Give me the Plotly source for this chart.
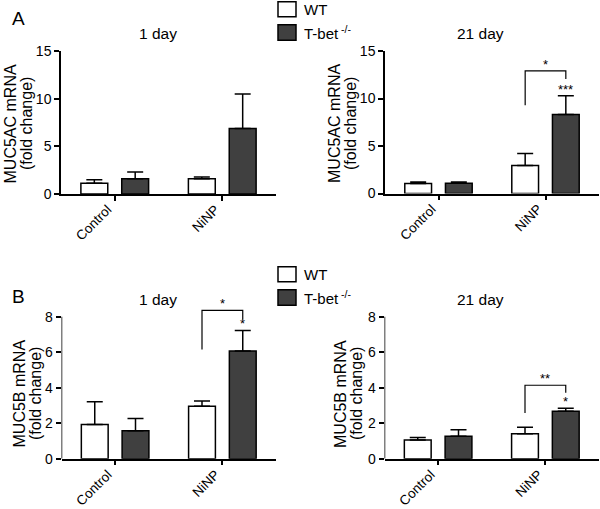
import plotly.graph_objects as go

categories = ["Control", "NiNP"]
groups = ["WT", "T-bet<sup> -/-</sup>"]

# Panel A: MUC5AC, 1 day and 21 day
a1_wt_mean = [1.12, 1.60]
a1_wt_sem = [0.38, 0.18]
a1_ko_mean = [1.60, 6.87]
a1_ko_sem = [0.70, 3.63]

a21_wt_mean = [1.05, 2.95]
a21_wt_sem = [0.15, 1.25]
a21_ko_mean = [1.09, 8.32]
a21_ko_sem = [0.11, 1.98]

# Panel B: MUC5B, 1 day and 21 day
b1_wt_mean = [1.93, 2.95]
b1_wt_sem = [1.28, 0.30]
b1_ko_mean = [1.58, 6.07]
b1_ko_sem = [0.69, 1.16]

b21_wt_mean = [1.05, 1.41]
b21_wt_sem = [0.15, 0.36]
b21_ko_mean = [1.26, 2.67]
b21_ko_sem = [0.37, 0.17]

FONT = "Liberation Sans, Arial, Helvetica, sans-serif"
KO_COLOR = "#404040"
W = 600
H = 509

pos = list(range(len(categories)))
OFF = 0.19
BW = 0.25

fig = go.Figure()

panels = [
    ("x", "y", a1_wt_mean, a1_wt_sem, a1_ko_mean, a1_ko_sem),
    ("x2", "y2", a21_wt_mean, a21_wt_sem, a21_ko_mean, a21_ko_sem),
    ("x3", "y3", b1_wt_mean, b1_wt_sem, b1_ko_mean, b1_ko_sem),
    ("x4", "y4", b21_wt_mean, b21_wt_sem, b21_ko_mean, b21_ko_sem),
]

for xa, ya, wm, ws, km, ks in panels:
    for means, sems, color, name, sign in [(wm, ws, "white", groups[0], -1), (km, ks, KO_COLOR, groups[1], 1)]:
        fig.add_trace(go.Bar(
            x=[p + sign * OFF for p in pos], y=means, width=BW,
            marker=dict(color=color, line=dict(color="black", width=1.5)),
            error_y=dict(type="data", symmetric=False, array=sems, arrayminus=[0] * len(sems),
                         color="black", thickness=1.5, width=8),
            name=name, showlegend=False, xaxis=xa, yaxis=ya, hoverinfo="skip",
        ))

def px_x(v):
    return v / W

def px_y(v):
    return 1 - v / H

xcommon = dict(range=[-0.5, 1.5], tickvals=pos, ticktext=categories, showticklabels=False,
               ticks="outside", ticklen=5, tickwidth=1.5, tickcolor="black",
               showline=True, linewidth=1.5, linecolor="black", showgrid=False, zeroline=False,
               fixedrange=True, automargin=False)
ycommon = dict(ticks="outside", ticklen=5, tickwidth=1.5, tickcolor="black",
               showgrid=False, zeroline=False,
               tickfont=dict(family=FONT, size=14, color="black"), fixedrange=True, automargin=False)

fig.update_layout(
    width=W, height=H, margin=dict(l=0, r=0, t=0, b=0, autoexpand=False),
    paper_bgcolor="white", plot_bgcolor="white", showlegend=False,
    font=dict(family=FONT, color="black"),
    xaxis=dict(xcommon, domain=[px_x(61), px_x(276)], anchor="y"),
    yaxis=dict(ycommon, domain=[px_y(194), px_y(51)], range=[0, 15], dtick=5, anchor="x",
               showline=True, linewidth=1.5, linecolor="black"),
    xaxis2=dict(xcommon, domain=[px_x(385), px_x(599)], anchor="y2"),
    yaxis2=dict(ycommon, domain=[px_y(193.5), px_y(51)], range=[0, 15], dtick=5, anchor="x2",
                showline=True, linewidth=1.5, linecolor="black"),
    xaxis3=dict(xcommon, domain=[px_x(61.5), px_x(276)], anchor="y3"),
    yaxis3=dict(ycommon, domain=[px_y(458.7), px_y(299)], range=[0, 9], tickvals=[0, 2, 4, 6, 8], anchor="x3",
                showline=False),
    xaxis4=dict(xcommon, domain=[px_x(384.5), px_x(599)], anchor="y4"),
    yaxis4=dict(ycommon, domain=[px_y(458.7), px_y(299)], range=[0, 9], tickvals=[0, 2, 4, 6, 8], anchor="x4",
                showline=False),
)

shapes = []
# y axis lines for panel B (stop at 8)
for xr, yr in [("x3", "y3"), ("x4", "y4")]:
    shapes.append(dict(type="line", xref=xr, yref=yr, x0=-0.5, x1=-0.5, y0=0, y1=8,
                       line=dict(color="black", width=1.5)))

# significance brackets: (xref, yref, left bottom, top, right bottom)
brackets = [
    ("x2", "y2", 9.3, 12.9, 12.05),
    ("x3", "y3", 6.16, 8.36, 7.85),
    ("x4", "y4", 2.58, 4.14, 3.71),
]
for xr, yr, lb, top, rb in brackets:
    shapes.append(dict(type="path", xref=xr, yref=yr,
                       path=f"M {1 - OFF},{lb} L {1 - OFF},{top} L {1 + OFF},{top} L {1 + OFF},{rb}",
                       line=dict(color="black", width=1.2)))

# legend boxes
for top in [1.7, 266.7]:
    shapes.append(dict(type="rect", xref="paper", yref="paper", x0=px_x(278), x1=px_x(296),
                       y0=px_y(top + 15), y1=px_y(top), fillcolor="white", line=dict(color="black", width=1.5)))
    shapes.append(dict(type="rect", xref="paper", yref="paper", x0=px_x(278), x1=px_x(296),
                       y0=px_y(top + 38.5), y1=px_y(top + 23), fillcolor=KO_COLOR, line=dict(color="black", width=1.5)))
fig.update_layout(shapes=shapes)

ann = []
def txt(x, y, s, size=13, xanchor="center", yanchor="middle", angle=0):
    ann.append(dict(x=px_x(x), y=px_y(y), xref="paper", yref="paper", text=s, showarrow=False,
                    xanchor=xanchor, yanchor=yanchor, textangle=angle,
                    font=dict(family=FONT, size=size, color="black")))

txt(18, 18, "A", size=19)
txt(18, 296, "B", size=19)
txt(158, 34, "1 day", size=15.5)
txt(480, 34, "21 day", size=15.5)
txt(158, 299, "1 day", size=15.5)
txt(480, 299, "21 day", size=15.5)
for top in [1.7, 266.7]:
    txt(302, top + 8, groups[0], size=15, xanchor="left")
    txt(302, top + 31, groups[1], size=15, xanchor="left")

# y axis titles
ytitles = [
    ("MUC5AC mRNA", "(fold change)", 9.5, 26, 124),
    ("MUC5AC mRNA", "(fold change)", 334, 350, 124),
    ("MUC5B mRNA", "(fold change)", 18.5, 35, 394),
    ("MUC5B mRNA", "(fold change)", 340, 356, 394),
]
for l1, l2, x1, x2, yc in ytitles:
    txt(x1, yc, l1, size=16, angle=-90)
    txt(x2, yc, l2, size=16, angle=-90)
fig.update_layout(annotations=ann)

# rotated category labels under each x axis
for xr, axis_px in [("x", 194), ("x2", 193.5), ("x3", 458.7), ("x4", 458.7)]:
    for p, c in zip(pos, categories):
        fig.add_annotation(x=p, y=px_y(axis_px + 5), xref=xr, yref="paper", text=c,
                           showarrow=False, textangle=-45, xanchor="right", yanchor="top",
                           xshift=3, font=dict(family=FONT, size=13.5, color="black"))

# significance stars (data coords)
stars = [
    ("x2", "y2", 1.0, 12.9, "*"),
    ("x2", "y2", 1 + OFF, 10.3, "***"),
    ("x3", "y3", 1.0, 8.36, "*"),
    ("x3", "y3", 1 + OFF, 7.23, "*"),
    ("x4", "y4", 1.0, 4.14, "**"),
    ("x4", "y4", 1 + OFF, 2.84, "*"),
]
for xr, yr, x, y, s in stars:
    fig.add_annotation(x=x, y=y, xref=xr, yref=yr, text=s, showarrow=False,
                       xanchor="center", yanchor="bottom", yshift=-3,
                       font=dict(family=FONT, size=13, color="black"))

fig.write_html("out.html", config={"displayModeBar": False},
               post_script="document.body.style.margin='0';document.body.style.overflow='hidden';")
